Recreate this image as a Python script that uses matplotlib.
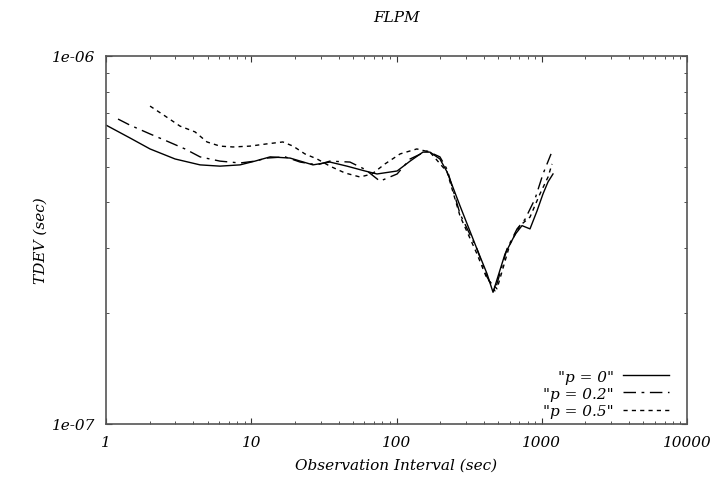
import matplotlib
matplotlib.use("Agg")
import matplotlib.pyplot as plt
from matplotlib.ticker import FixedLocator, FixedFormatter, LogLocator, NullFormatter

# observation interval (sec) and TDEV (x1e-7 sec)
x_p0 = [1.0, 1.46, 2.01, 2.99, 4.44, 6.09, 8.37, 10.6, 13.5, 18.5, 26.6, 34.8,
        45.6, 60.7, 73.4, 101, 124, 152, 170, 199, 223, 274, 358, 420, 462,
        559, 654, 731, 830, 927, 1020, 1105, 1195]
y_p0 = [6.49, 5.99, 5.59, 5.25, 5.06, 5.02, 5.06, 5.18, 5.32, 5.28, 5.06, 5.15,
        5.02, 4.87, 4.78, 4.87, 5.18, 5.48, 5.48, 5.25, 4.84, 3.91, 2.99, 2.56, 2.28,
        2.90, 3.27, 3.46, 3.39, 3.79, 4.22, 4.55, 4.78]

x_p02 = [1.21, 1.46, 2.01, 2.63, 3.50, 4.44, 6.09, 8.37, 10.6, 12.8, 17.1, 21.7,
         28.4, 34.8, 47.8, 60.7, 76.9, 101, 124, 162, 199, 223, 274, 358, 420,
         476, 576, 676, 767, 899, 1020, 1159]
y_p02 = [6.74, 6.49, 6.14, 5.87, 5.59, 5.32, 5.18, 5.12, 5.18, 5.28, 5.32, 5.15,
         5.06, 5.18, 5.15, 4.92, 4.57, 4.78, 5.25, 5.52, 5.32, 4.92, 3.72, 2.99, 2.51,
         2.30, 2.99, 3.39, 3.60, 4.09, 4.78, 5.42]

x_p05 = [2.01, 2.55, 3.23, 4.10, 4.96, 6.09, 7.48, 9.80, 12.8, 16.5, 19.4, 23.4,
         28.4, 34.8, 44.2, 56.1, 67.8, 83.3, 106, 138, 170, 223, 274, 358, 420,
         492, 604, 708, 830, 972, 1105, 1177]
y_p05 = [7.31, 6.87, 6.45, 6.22, 5.84, 5.69, 5.66, 5.69, 5.77, 5.84, 5.69, 5.42,
         5.25, 5.02, 4.81, 4.69, 4.78, 5.09, 5.42, 5.59, 5.48, 4.84, 3.67, 2.90, 2.48,
         2.33, 3.08, 3.46, 3.65, 4.22, 4.69, 5.09]

series = [
    (x_p0, y_p0, '"p = 0"', "-"),
    (x_p02, y_p02, '"p = 0.2"', (0, (9, 4, 2, 4))),
    (x_p05, y_p05, '"p = 0.5"', (0, (3, 3))),
]

x_ticks = [1, 10, 100, 1000, 10000]
x_ticklabels = ["1", "10", "100", "1000", "10000"]
y_ticks = [1e-7, 1e-6]
y_ticklabels = ["1e-07", "1e-06"]

plt.rcParams["font.family"] = "DejaVu Serif"
plt.rcParams["font.style"] = "italic"

fig, ax = plt.subplots(figsize=(7.14, 4.89), dpi=100)
fig.subplots_adjust(left=106/714, right=687/714, bottom=1 - 425/489, top=1 - 57/489)

for xs, ys, lab, ls in series:
    ax.plot(xs, [v * 1e-7 for v in ys], color="black", linewidth=1.0,
            linestyle=ls, label=lab)

ax.set_xscale("log"); ax.set_yscale("log")
ax.set_xlim(1, 10000); ax.set_ylim(1e-7, 1e-6)

ax.xaxis.set_major_locator(FixedLocator(x_ticks))
ax.xaxis.set_major_formatter(FixedFormatter(x_ticklabels))
ax.xaxis.set_minor_locator(LogLocator(base=10, subs=range(2, 10)))
ax.xaxis.set_minor_formatter(NullFormatter())
ax.yaxis.set_major_locator(FixedLocator(y_ticks))
ax.yaxis.set_major_formatter(FixedFormatter(y_ticklabels))
ax.yaxis.set_minor_locator(LogLocator(base=10, subs=range(2, 10)))
ax.yaxis.set_minor_formatter(NullFormatter())

ax.tick_params(which="both", direction="in", top=True, right=True,
               labelsize=11, colors="#333333", labelcolor="black")
ax.tick_params(which="major", length=4, pad=8)
ax.tick_params(which="minor", length=2.5)
for sp in ax.spines.values():
    sp.set_color("#555555")
    sp.set_linewidth(1.2)

ax.set_title("FLPM", fontsize=11, pad=25)
ax.set_xlabel("Observation Interval (sec)", fontsize=11, labelpad=6)
ax.set_ylabel("TDEV (sec)", fontsize=11, labelpad=3)

ax.legend(loc="lower right", bbox_to_anchor=(0.979, 0.0), frameon=False,
          markerfirst=False, fontsize=11, handlelength=3.0, handletextpad=0.6,
          labelspacing=0.2, borderaxespad=0.0)

fig.savefig("out.png", dpi=100)
